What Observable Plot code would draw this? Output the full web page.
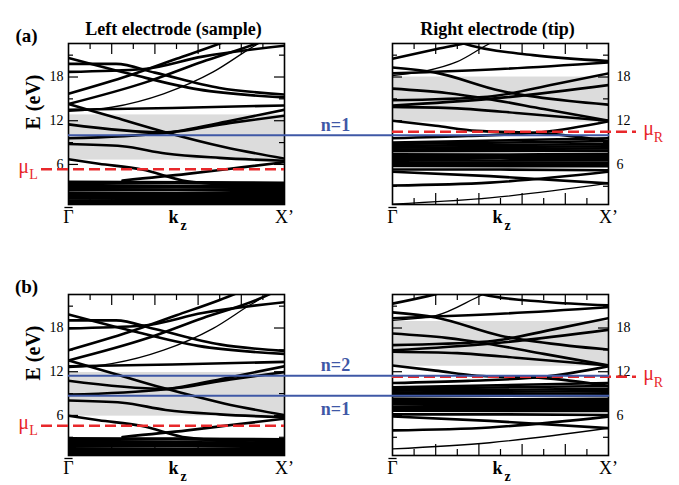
<!DOCTYPE html>
<html><head><meta charset="utf-8">
<script src="https://cdn.jsdelivr.net/npm/d3@7"></script>
<script src="https://cdn.jsdelivr.net/npm/@observablehq/plot@0.6"></script>
<style>body{margin:0;background:#fff}#chart svg{display:block}#chart svg,#chart svg text{font-family:"Liberation Serif","Times New Roman",serif !important}</style>
</head><body><div id="chart"></div>
<script>
// ---- categories / ticks ----
const columns = ["L", "R"];            // left electrode (sample), right electrode (tip)
const rows = ["a", "b"];               // panel (a), panel (b)
const yMajor = [6, 12, 18];
const yMinor = [3, 9, 15, 21];
const xMajor = [0.2, 0.4, 0.6, 0.8];
const xMinor = [0.1, 0.3, 0.5, 0.7, 0.9];
const kLabels = [{x: 0, t: "\u0393"}, {x: 1, t: "X\u2019"}];
const titles = [{fx: "L", fy: "a", t: "Left electrode (sample)"}, {fx: "R", fy: "a", t: "Right electrode (tip)"}];
const panelTags = [{fx: "L", fy: "a", t: "(a)"}, {fx: "L", fy: "b", t: "(b)"}];

// ---- gaps (gray) [lo, hi] in eV ----
const gapL_a = [6.6, 12.8], gapR_a = [11.8, 18.0], gapL_b = [5.9, 11.9], gapR_b = [12.75, 18.9];

// ---- chemical potentials and levels ----
const muValues = [{fx: "L", fy: "a", E: 5.35, s: "L"}, {fx: "R", fy: "a", E: 10.5, s: "R"},
                  {fx: "L", fy: "b", E: 4.6, s: "L"}, {fx: "R", fy: "b", E: 11.3, s: "R"}];
const levelsAbove = [{fy: "a", E: 10.0, t: "n=1"}, {fy: "b", E: 11.45, t: "n=2"}];
const levelsBelow = [{fy: "b", E: 8.7, t: "n=1"}];

// ---- bands: [strokeWidth, [k, E], ...] ----
const sampleA = [
 [2.6,[0,20.6],[0.3,18.3],[0.6,16.3],[1,15.2]],
 [2.6,[0,19.8],[0.22,19.8],[0.4,18.6],[0.7,16.5],[1,15.6]],
 [2.6,[0,18.7],[0.35,19.1],[0.62,20.8],[1,22.3]],
 [2.6,[0,15.7],[0.28,18.2],[0.5,20.5],[0.7,22.6],[0.76,23.3]],
 [2.6,[0,14.3],[0.36,17.3],[0.62,20.1],[0.87,22.6],[0.93,23.3]],
 [1.3,[0,13.3],[0.2,13.85],[0.44,15.7],[0.67,18.7],[0.84,21.9],[0.92,23.3]],
 [2.6,[0,13.5],[0.48,13.75],[1,14.1]],
 [2.6,[0,14.3],[0.22,12.4],[0.44,10.5],[0.72,8.4],[1,6.8]],
 [2.6,[0,11.5],[0.44,10.4],[0.75,11.7],[1,12.7]],
 [2.6,[0,9.6],[0.44,10.3],[0.75,12.0],[1,13.5]],
 [2.6,[0,8.8],[0.25,8.5],[0.45,7.5],[0.7,6.9],[1,6.5]],
 [2.6,[0,6.7],[0.14,6.1],[0.34,5.3],[0.55,3.7],[1,2.8]],
 [2.6,[0.25,3.8],[0.55,4.7],[0.8,5.6],[1,6.3]],
 [3,[0,3.6],[1,3.45]],
 [3,[0,3.3],[0.5,3.5],[1,3.2]],
 [3,[0,3.05],[1,3.0]],
 [3,[0,2.8],[0.5,2.9],[1,2.7]],
 [3,[0,2.55],[1,2.5]],
 [3,[0,2.1],[0.5,2.05],[1,2.3]],
 [3,[0,1.85],[1,1.95]],
 [3,[0,1.6],[0.5,1.7],[1,1.65]],
 [3,[0,1.35],[1,1.4]],
 [3,[0,1.0],[0.5,1.1],[1,1.15]],
 [3,[0,0.8],[1,0.85]],
 [3,[0,0.55],[0.5,0.6],[1,0.6]]
];
const tipA = [
 [2.6,[0,20.5],[0.2,21.8],[0.33,22.6],[0.4,23.1]],
 [2.6,[0.3,23.0],[0.33,22.6],[0.65,21.0],[1,20.2]],
 [1.3,[0,18.2],[0.15,18.8],[0.3,20.1],[0.45,22.6],[0.5,23.3]],
 [2.6,[0,19.3],[0.2,18.6],[0.5,16.1],[0.82,14.7],[1,14.2]],
 [2.6,[0,18.5],[0.5,19.1],[1,20.0]],
 [2.6,[0,16.4],[0.25,15.8],[0.44,15.0],[0.7,13.6],[1,12.0]],
 [2.6,[0,14.8],[0.44,15.3],[0.75,17.0],[1,18.5]],
 [2.6,[0,14.1],[0.45,15.0],[1,16.9]],
 [2.6,[0,13.9],[0.3,13.7],[0.6,13.0],[1,12.0]],
 [2.6,[0,12.0],[0.2,11.3],[0.39,10.6],[0.69,10.3],[1,9.2]],
 [2.6,[0,9.6],[0.35,9.9],[0.7,10.45],[1,11.9]],
 [2.6,[0,9.0],[1,9.6]],
 [2.6,[0,8.8],[1,9.2]],
 [2.6,[0,8.55],[1,8.8]],
 [2.6,[0,8.3],[0.5,8.4],[1,8.5]],
 [2.6,[0,8.05],[1,8.2]],
 [2.6,[0,7.8],[1,7.9]],
 [2.6,[0,7.4],[0.5,7.35],[1,7.45]],
 [2.6,[0,7.15],[1,7.15]],
 [2.6,[0,6.9],[1,6.85]],
 [2.6,[0,6.65],[0.5,6.55],[1,6.6]],
 [2.6,[0,6.3],[1,6.25]],
 [2.6,[0,6.05],[1,6.0]],
 [2.6,[0,5.8],[1,5.75]],
 [2.6,[0,5.3],[0.5,5.3],[1,5.2]],
 [2.6,[0,5.0],[0.45,4.4],[1,3.4]],
 [2.6,[0,3.1],[0.45,3.5],[1,5.0]],
 [1.3,[0,0.55],[0.45,1.4],[1,3.4]]
];
const sampleB = [
 [2.6,[0,19.85],[0.3,17.55],[0.6,15.55],[1,14.45]],
 [2.6,[0,19.05],[0.22,19.05],[0.4,17.85],[0.7,15.75],[1,14.85]],
 [2.6,[0,17.95],[0.35,18.35],[0.62,20.05],[1,21.55]],
 [2.6,[0,14.95],[0.28,17.45],[0.5,19.75],[0.7,21.85],[0.79,22.9]],
 [2.6,[0,13.55],[0.36,16.55],[0.62,19.35],[0.87,21.85],[0.95,22.9]],
 [1.3,[0,12.55],[0.2,13.1],[0.44,14.95],[0.67,17.95],[0.84,21.15],[0.94,22.9]],
 [2.6,[0,12.75],[0.48,13.0],[1,13.35]],
 [2.6,[0,13.55],[0.22,11.65],[0.44,9.75],[0.72,7.65],[1,6.05]],
 [2.6,[0,10.75],[0.44,9.65],[0.75,10.95],[1,11.95]],
 [2.6,[0,8.85],[0.44,9.55],[0.75,11.25],[1,12.75]],
 [2.6,[0,8.05],[0.25,7.75],[0.45,6.75],[0.7,6.15],[1,5.75]],
 [2.6,[0,5.95],[0.14,5.35],[0.34,4.55],[0.55,2.95],[1,2.05]],
 [2.6,[0.25,3.05],[0.55,3.95],[0.8,4.85],[1,5.55]],
 [3,[0,2.85],[1,2.7]],
 [3,[0,2.6],[0.5,2.75],[1,2.45]],
 [3,[0,2.35],[1,2.25]],
 [3,[0,2.1],[0.5,2.15],[1,2.0]],
 [3,[0,1.85],[1,1.8]],
 [3,[0,1.45],[0.5,1.4],[1,1.55]],
 [3,[0,1.2],[1,1.3]],
 [3,[0,0.95],[0.5,1.0],[1,1.05]],
 [3,[0,0.7],[1,0.75]]
];
const tipB = [
 [2.6,[0,21.35],[0.2,22.65],[0.27,23.2]],
 [2.6,[0.35,23.2],[0.42,22.6],[0.7,21.6],[1,21.1]],
 [1.3,[0,19.05],[0.2,19.7],[0.42,22.6],[0.47,23.2]],
 [2.6,[0,20.15],[0.2,19.45],[0.5,16.95],[0.82,15.55],[1,15.05]],
 [2.6,[0,19.35],[0.5,19.95],[1,20.85]],
 [2.6,[0,17.25],[0.25,16.65],[0.44,15.85],[0.7,14.45],[1,12.85]],
 [2.6,[0,15.65],[0.44,16.15],[0.75,17.85],[1,19.35]],
 [2.6,[0,14.95],[0.45,15.85],[1,17.75]],
 [2.6,[0,14.75],[0.3,14.55],[0.6,13.85],[1,12.85]],
 [2.6,[0,12.85],[0.2,12.15],[0.39,11.45],[0.69,11.15],[1,10.05]],
 [2.6,[0,10.45],[0.35,10.75],[0.7,11.3],[1,12.75]],
 [2.6,[0,9.85],[1,10.45]],
 [2.6,[0,9.65],[1,10.05]],
 [2.6,[0,9.4],[1,9.65]],
 [2.6,[0,9.15],[0.5,9.25],[1,9.35]],
 [2.6,[0,8.9],[1,9.05]],
 [2.6,[0,8.65],[1,8.75]],
 [2.6,[0,8.25],[0.5,8.2],[1,8.3]],
 [2.6,[0,8.0],[1,8.0]],
 [2.6,[0,7.75],[1,7.7]],
 [2.6,[0,7.5],[0.5,7.4],[1,7.45]],
 [2.6,[0,7.15],[1,7.1]],
 [2.6,[0,6.9],[1,6.85]],
 [2.6,[0,6.65],[1,6.6]],
 [2.6,[0,6.15],[0.5,6.15],[1,6.05]],
 [2.6,[0,5.85],[0.45,5.25],[1,4.25]],
 [2.6,[0,3.95],[0.45,4.35],[1,5.85]],
 [1.3,[0,1.4],[0.45,2.25],[1,4.25]]
];

// ---- build tables ----
const panels = [[sampleA, "L", "a"], [tipA, "R", "a"], [sampleB, "L", "b"], [tipB, "R", "b"]];
const bandRows = [];
panels.forEach(([lines, fx, fy], pi) => lines.forEach((ln, li) => {
  const [w, ...pts] = ln;
  pts.forEach(([k, E]) => bandRows.push({id: pi + "-" + li, fx, fy, w, k, E}));
}));
const gapRows = [[gapL_a,"L","a"],[gapR_a,"R","a"],[gapL_b,"L","b"],[gapR_b,"R","b"]]
  .map(([g, fx, fy]) => ({fx, fy, lo: g[0], hi: g[1], k1: 0, k2: 1}));

const BW = 217, BH = 161, STEP = 325;
const red = "#e8282b", blue = "#3f58a6", serif = "Liberation Serif";
const overbar = {draw(ctx, size) { const w = Math.sqrt(size); ctx.moveTo(-w / 2, 0); ctx.lineTo(w / 2, 0); }};
const mid = {textAnchor: "middle", fontFamily: serif};

const chart = Plot.plot({
  width: 679, height: 485,
  marginTop: 43, marginBottom: 29.5, marginLeft: 67, marginRight: 70,
  style: {background: "white", overflow: "visible"},
  x: {domain: [0, 1], axis: null},
  y: {domain: [0.5, 22.6], axis: null, label: null},
  fx: {domain: columns, paddingInner: 0.332, paddingOuter: 0, axis: null},
  fy: {domain: rows, paddingInner: 0.36, paddingOuter: 0, axis: null},
  marks: [
    Plot.rect(gapRows, {x1: "k1", x2: "k2", y1: "lo", y2: "hi", fx: "fx", fy: "fy", fill: "#dcdcdc"}),
    Plot.line(bandRows, {x: "k", y: "E", z: "id", fx: "fx", fy: "fy", stroke: "black",
      strokeWidth: "w", curve: "monotone-x", clip: true}),
    Plot.tickY(yMajor, {y: d => d, insetRight: BW - 11, stroke: "black", strokeWidth: 1.2}),
    Plot.tickY(yMajor, {y: d => d, insetLeft: BW - 11, stroke: "black", strokeWidth: 1.2}),
    Plot.tickY(yMinor, {y: d => d, insetRight: BW - 6, stroke: "black", strokeWidth: 1.2}),
    Plot.tickY(yMinor, {y: d => d, insetLeft: BW - 6, stroke: "black", strokeWidth: 1.2}),
    Plot.tickX(xMajor, {x: d => d, insetBottom: BH - 11, stroke: "black", strokeWidth: 1.2}),
    Plot.tickX(xMajor, {x: d => d, insetTop: BH - 11, stroke: "black", strokeWidth: 1.2}),
    Plot.tickX(xMinor, {x: d => d, insetBottom: BH - 6, stroke: "black", strokeWidth: 1.2}),
    Plot.tickX(xMinor, {x: d => d, insetTop: BH - 6, stroke: "black", strokeWidth: 1.2}),
    Plot.frame({stroke: "black", strokeWidth: 1.6}),
    Plot.axisY(yMajor, {anchor: "left", facetAnchor: "left", tickSize: 0, tickPadding: 5, fontSize: 14, fontFamily: serif, label: null, fill: "black"}),
    Plot.axisY(yMajor, {anchor: "right", facetAnchor: "right", tickSize: 0, tickPadding: 8, fontSize: 14, fontFamily: serif, label: null, fill: "black"}),
    // chemical potentials
    Plot.ruleY(muValues.filter(d => d.fx === "L"), {y: "E", fx: "fx", fy: "fy", stroke: red, strokeWidth: 2.5, strokeDasharray: "11,5", insetLeft: -27}),
    Plot.ruleY(muValues.filter(d => d.fx === "R"), {y: "E", fx: "fx", fy: "fy", stroke: red, strokeWidth: 2.5, strokeDasharray: "11,5", insetRight: -28}),
    Plot.text(muValues.filter(d => d.fx === "L"), {...mid, y: "E", fx: "fx", fy: "fy", text: () => "\u03bc", frameAnchor: "left", dx: -45, dy: -3, fontSize: 20, fill: red}),
    Plot.text(muValues.filter(d => d.fx === "L"), {...mid, y: "E", fx: "fx", fy: "fy", text: "s", frameAnchor: "left", dx: -35, dy: 5, fontSize: 14, fill: red}),
    Plot.text(muValues.filter(d => d.fx === "R"), {...mid, y: "E", fx: "fx", fy: "fy", text: () => "\u03bc", frameAnchor: "right", dx: 40, dy: -3, fontSize: 20, fill: red}),
    Plot.text(muValues.filter(d => d.fx === "R"), {...mid, y: "E", fx: "fx", fy: "fy", text: "s", frameAnchor: "right", dx: 50, dy: 6, fontSize: 14, fill: red}),
    // n levels
    Plot.ruleY([...levelsAbove, ...levelsBelow], {y: "E", fx: () => "L", fy: "fy", stroke: blue, strokeWidth: 2, insetRight: -STEP}),
    Plot.text(levelsAbove, {...mid, y: "E", fx: () => "L", fy: "fy", text: "t", frameAnchor: "right", dx: 51, dy: -10, fontSize: 18, fontWeight: "bold", fill: blue}),
    Plot.text(levelsBelow, {...mid, y: "E", fx: () => "L", fy: "fy", text: "t", frameAnchor: "right", dx: 51, dy: 13, fontSize: 18, fontWeight: "bold", fill: blue}),
    // k-axis labels
    Plot.text(kLabels, {...mid, x: "x", text: "t", frameAnchor: "bottom", lineAnchor: "top", dy: 6, fontSize: 18}),
    Plot.dot(kLabels.slice(0, 1), {x: "x", frameAnchor: "bottom", dy: 3, symbol: overbar, r: 4.6, fill: "none", stroke: "black", strokeWidth: 1.3}),
    Plot.text([0.5], {...mid, x: d => d, text: () => "k", frameAnchor: "bottom", lineAnchor: "top", dx: -3, dy: 6, fontSize: 18, fontWeight: "bold"}),
    Plot.text([0.5], {...mid, x: d => d, text: () => "z", frameAnchor: "bottom", lineAnchor: "top", dx: 7, dy: 16, fontSize: 14, fontWeight: "bold"}),
    Plot.text(titles, {...mid, fx: "fx", fy: "fy", text: "t", frameAnchor: "top", dx: -3, dy: -21, fontSize: 18, fontWeight: "bold"}),
    Plot.text(panelTags, {...mid, fx: "fx", fy: "fy", text: "t", frameAnchor: "top-left", dx: -42, dy: -15, fontSize: 19, fontWeight: "bold"}),
    Plot.text(panelTags, {...mid, fx: "fx", fy: "fy", text: () => "E (eV)", frameAnchor: "left", rotate: -90, dx: -35, dy: -22, fontSize: 20, fontWeight: "bold"})
  ]
});
document.getElementById("chart").appendChild(chart);
</script></body></html>
